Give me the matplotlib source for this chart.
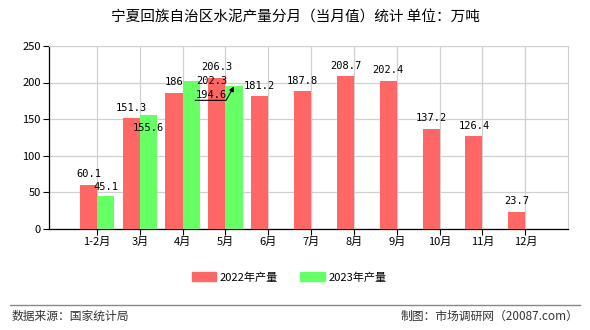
import matplotlib
matplotlib.use("Agg")
import matplotlib.pyplot as plt
import numpy as np
from matplotlib.lines import Line2D
from matplotlib.patches import Patch

plt.rcParams['font.family'] = ['Noto Sans CJK SC', 'DejaVu Sans']

# data
months = ["1-2月", "3月", "4月", "5月", "6月", "7月", "8月", "9月", "10月", "11月", "12月"]
prod_2022 = [60.1, 151.3, 186, 206.3, 181.2, 187.8, 208.7, 202.4, 137.2, 126.4, 23.7]
prod_2023 = [45.1, 155.6, 202.3, 194.6]

red = "#ff6666"
green = "#66ff66"
w = 0.4

fig = plt.figure(figsize=(5.9, 3.3), dpi=100)
ax = fig.add_axes([0.083, 0.306, 0.880, 0.555])

x22 = np.arange(len(prod_2022))
x23 = np.arange(len(prod_2023))
b22 = ax.bar(x22 - w / 2, prod_2022, w, color=red, zorder=3)
b23 = ax.bar(x23 + w / 2, prod_2023, w, color=green, zorder=3)

ax.set_xlim(-1.12, 11.0)
ax.set_ylim(0, 250)
ax.set_yticks(np.arange(0, 251, 50))
ax.set_xticks(x22)
ax.set_xticklabels(months, fontsize=8)
ax.tick_params(axis='y', labelsize=8, length=4, width=0.8, pad=2)
ax.tick_params(axis='x', length=4, width=0.8, pad=2)
ax.grid(True, color="#d0d0d0", linewidth=0.9, zorder=0)
for s in ['top', 'right']:
    ax.spines[s].set_color("#d0d0d0")
for s in ['left', 'bottom']:
    ax.spines[s].set_color("black")
    ax.spines[s].set_linewidth(0.9)

mono = dict(family="DejaVu Sans Mono", fontsize=7.5, zorder=5)

for i, v in enumerate(prod_2022):
    ax.annotate(f"{v:g}", (x22[i] - w / 2, v), xytext=(0, 4), textcoords="offset points",
                ha="center", va="bottom", **mono)

# offsets for the 2023 labels that were moved in the reference
offs_2023 = {0: (0, 3, "bottom"), 1: (0, -9, "center"), 2: (15, 0, "center")}
for i, v in enumerate(prod_2023):
    if i in offs_2023:
        dx, dy, va = offs_2023[i]
        ax.annotate(f"{v:g}", (x23[i] + w / 2, v), xytext=(dx, dy), textcoords="offset points",
                    ha="center", va=va, **mono)
    else:
        ax.annotate(f"{v:g}", (x23[i] + w / 2, v), xytext=(-16, -6), textcoords="offset points",
                    ha="center", va="center", **mono)
        ax.annotate("", (x23[i] + w / 2, v), xytext=(-28, -10), textcoords="offset points",
                    arrowprops=dict(arrowstyle="-|>", color="black", lw=0.8,
                                    connectionstyle="angle,angleA=0,angleB=60,rad=0",
                                    mutation_scale=7, shrinkA=0, shrinkB=0), zorder=5)

fig.text(0.5, 0.948, "宁夏回族自治区水泥产量分月（当月值）统计 单位：万吨",
         ha="center", va="center", fontsize=10.5)

handles = [Patch(color=red), Patch(color=green)]
fig.legend(handles, ["2022年产量", "2023年产量"], loc="center", bbox_to_anchor=(0.49, 0.16),
           ncol=2, frameon=False, fontsize=8, handlelength=2.2, handleheight=0.8,
           columnspacing=2.0, handletextpad=0.3)

fig.add_artist(Line2D([0.017, 0.983], [0.076, 0.076], color="#888888", linewidth=1.0))
fig.text(0.02, 0.042, "数据来源：国家统计局", ha="left", va="center", fontsize=8.5, color="#333333")
fig.text(0.98, 0.042, "制图：市场调研网（20087.com）", ha="right", va="center", fontsize=8.5,
         color="#333333")

fig.savefig("out.png", dpi=100)
